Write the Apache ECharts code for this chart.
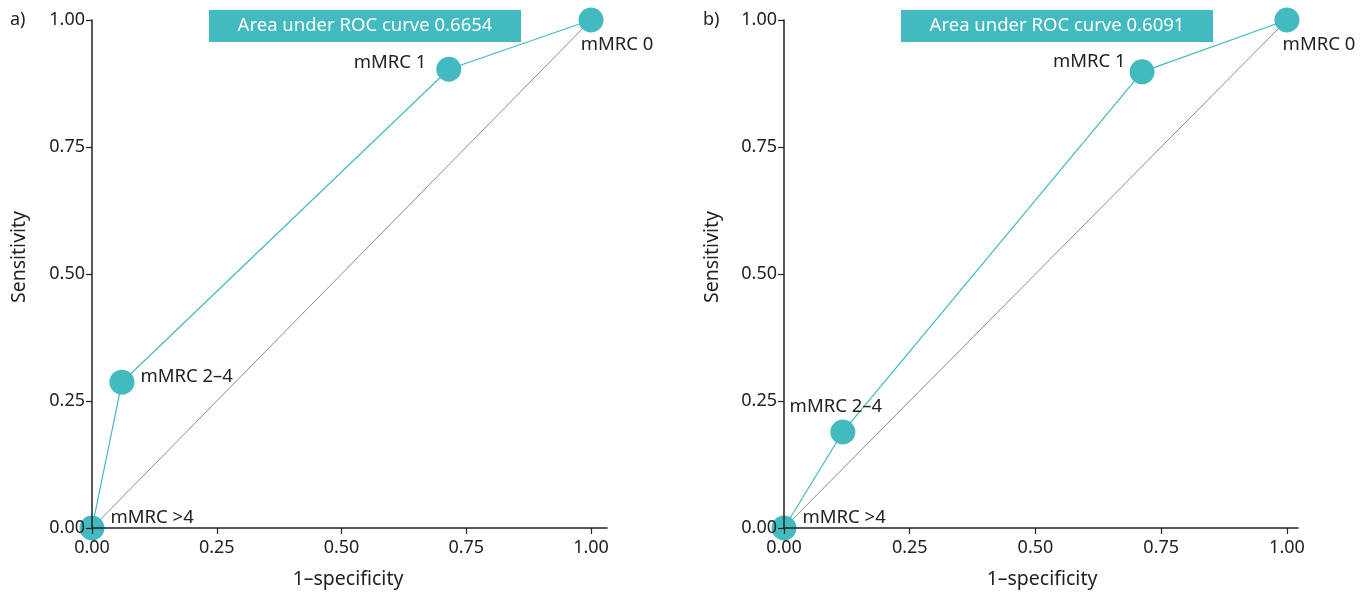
<!DOCTYPE html>
<html><head><meta charset="utf-8">
<script src="https://cdn.jsdelivr.net/npm/echarts@6/dist/echarts.min.js"></script>
<style>html,body{margin:0;padding:0;background:#fff}#c{width:1363px;height:592px}</style>
</head><body><div id="c"></div>
<script>
const pointLabels = ['mMRC >4', 'mMRC 2–4', 'mMRC 1', 'mMRC 0'];
const panelA_x = [0, 0.06, 0.715, 1];
const panelA_y = [0, 0.287, 0.903, 1];
const panelB_x = [0, 0.117, 0.712, 1];
const panelB_y = [0, 0.189, 0.898, 1];
const chanceLine = [[0, 0], [1, 1]];
const tickValues = [0, 0.25, 0.5, 0.75, 1];
const aucA = 'Area under ROC curve 0.6654';
const aucB = 'Area under ROC curve 0.6091';
const xName = '1–specificity';
const yName = 'Sensitivity';

const TEAL = '#43b9c0';
const FONT = 'Noto Sans';
const TXT = '#222';

const labelPosA = [
  {position: 'right', distance: 6, offset: [0, -10]},
  {position: 'right', distance: 6, offset: [0, -5]},
  {position: 'left', distance: 10, offset: [0, -7]},
  {position: 'bottom', distance: 3, offset: [26, 0]}
];
const labelPosB = [
  {position: 'right', distance: 6, offset: [0, -10]},
  {position: 'top', distance: 3, offset: [-7, 0]},
  {position: 'left', distance: 4, offset: [0, -10]},
  {position: 'bottom', distance: 3, offset: [32, 0]}
];

function buildData(xs, ys, pos) {
  return xs.map((x, i) => ({
    value: [x, ys[i]],
    label: Object.assign({show: true, formatter: pointLabels[i], color: TXT, fontSize: 18.5, fontFamily: FONT}, pos[i])
  }));
}

function xAxis(idx, max) {
  return {
    type: 'value', gridIndex: idx, min: 0, max: max, z: 10,
    axisLine: {show: true, onZero: false, lineStyle: {color: '#222', width: 1.5}},
    axisTick: {show: true, length: 6, customValues: tickValues, lineStyle: {color: '#222', width: 1.2}},
    axisLabel: {customValues: tickValues, formatter: v => v.toFixed(2), color: TXT, fontSize: 18, fontFamily: FONT, margin: 11},
    splitLine: {show: false}
  };
}
function yAxis(idx) {
  return {
    type: 'value', gridIndex: idx, min: 0, max: 1, interval: 0.25, z: 10,
    axisLine: {show: true, onZero: false, lineStyle: {color: '#222', width: 1.5}},
    axisTick: {show: true, length: 6, lineStyle: {color: '#222', width: 1.2}},
    axisLabel: {formatter: v => v.toFixed(2), color: TXT, fontSize: 18, fontFamily: FONT, margin: 7},
    splitLine: {show: false}
  };
}

function aucBox(left, text) {
  return {
    type: 'group', left: left, top: 10,
    children: [
      {type: 'rect', shape: {x: 0, y: 0, width: 312, height: 32}, style: {fill: TEAL}},
      {type: 'text', x: 156, y: 16, style: {text: text, fill: '#fff', font: '18.5px "' + FONT + '"', align: 'center', verticalAlign: 'middle'}}
    ]
  };
}

const chart = echarts.init(document.getElementById('c'));
chart.setOption({
  animation: false,
  grid: [
    {left: 92, top: 20, width: 515, height: 508},
    {left: 784, top: 20, width: 514, height: 508}
  ],
  xAxis: [xAxis(0, 1.032), xAxis(1, 1.022)],
  yAxis: [yAxis(0), yAxis(1)],
  graphic: [
    aucBox(209, aucA),
    aucBox(901, aucB),
    {type: 'text', x: 10, y: 20, style: {text: 'a)', fill: TXT, font: '18px "' + FONT + '"', verticalAlign: 'middle'}},
    {type: 'text', x: 703, y: 20, style: {text: 'b)', fill: TXT, font: '18px "' + FONT + '"', verticalAlign: 'middle'}},
    {type: 'text', x: 348, y: 579, style: {text: xName, fill: TXT, font: '19.5px "' + FONT + '"', align: 'center', verticalAlign: 'middle'}},
    {type: 'text', x: 1042, y: 579, style: {text: xName, fill: TXT, font: '19.5px "' + FONT + '"', align: 'center', verticalAlign: 'middle'}},
    {type: 'text', x: 19, y: 257, rotation: Math.PI / 2, style: {text: yName, fill: TXT, font: '19.5px "' + FONT + '"', align: 'center', verticalAlign: 'middle'}},
    {type: 'text', x: 712, y: 257, rotation: Math.PI / 2, style: {text: yName, fill: TXT, font: '19.5px "' + FONT + '"', align: 'center', verticalAlign: 'middle'}}
  ],
  series: [
    {type: 'line', xAxisIndex: 0, yAxisIndex: 0, data: chanceLine, showSymbol: false, lineStyle: {color: '#8a8a8a', width: 1}, z: 1},
    {type: 'line', xAxisIndex: 1, yAxisIndex: 1, data: chanceLine, showSymbol: false, lineStyle: {color: '#8a8a8a', width: 1}, z: 1},
    {type: 'line', xAxisIndex: 0, yAxisIndex: 0, data: buildData(panelA_x, panelA_y, labelPosA), symbol: 'circle', symbolSize: 25, itemStyle: {color: TEAL}, lineStyle: {color: TEAL, width: 1.2}, z: 2},
    {type: 'line', xAxisIndex: 1, yAxisIndex: 1, data: buildData(panelB_x, panelB_y, labelPosB), symbol: 'circle', symbolSize: 25, itemStyle: {color: TEAL}, lineStyle: {color: TEAL, width: 1.2}, z: 2}
  ]
});
</script></body></html>
